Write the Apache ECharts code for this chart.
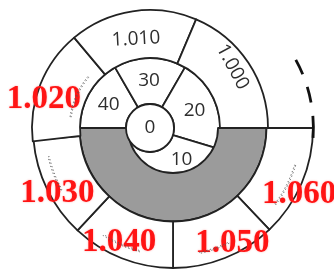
<!DOCTYPE html>
<html>
<head>
<meta charset="utf-8">
<script src="https://cdn.jsdelivr.net/npm/echarts@6/dist/echarts.min.js"></script>
<style>
html,body{margin:0;padding:0;background:#fff}
#main{width:334px;height:273px}
</style>
</head>
<body>
<div id="main"></div>
<script>
// inner dial round the 0 disc, spans in degrees clockwise from the left edge
var innerNames = ['40', '30', '20', '10'];
var innerSpans = [60, 60, 77, 163];
// upper outer scale, clockwise from just under the left edge
var upperNames = ['1.020', '1.010', '1.000'];
var upperSpans = [56.5, 63, 67];
// lower outer scale on the shifted disc, clockwise from the right edge
var lowerNames = ['1.060', '1.050', '1.040', '1.030'];
var lowerSpans = [46.5, 43.5, 43, 42];
// grey half ring
var bandSpan = [180];
// dotted scale marks, [from, to] in degrees
var lowerMarks = [[323, 343], [282, 296], [237, 255], [193, 209]];
var upperMarks = [[140, 172]];
// dashes of the outside arc at the right
var dashArcs = [[-4, 5], [10.5, 17], [22.5, 29]];
// labels drawn in red
var redNames = ['1.020', '1.030', '1.040', '1.050', '1.060'];

var cA = [150, 128];   // centre of the 0 disc
var cB = [173, 128];   // centre of the shifted disc
var line = '#222';

function total(a) { return a.reduce(function (s, v) { return s + v; }, 0); }

var blackText = {show: true, position: 'inside', formatter: '{b}', color: '#2e2e2e',
  fontFamily: 'Open Sans', fontSize: 19};
var redText = {show: true, position: 'inside', formatter: '{b}', color: '#ff1414',
  fontFamily: 'Liberation Serif', fontWeight: 'bold', fontSize: 33,
  textShadowColor: 'rgba(255,60,60,0.45)', textShadowBlur: 2};
var rotations = {'1.010': 3, '1.000': -62};
var labelShift = {
  '10': [39, -18], '40': [2, 2], '30': [-1, 3], '20': [-2, 1],
  '1.010': [0, 7], '1.000': [-6, -5],
  '1.020': [-16, 7], '1.030': [-8, 13], '1.040': [-10, 3], '1.050': [15, 4], '1.060': [16, 19]
};

function ringData(names, spans) {
  return names.map(function (n, i) {
    var lab = Object.assign({}, redNames.indexOf(n) >= 0 ? redText : blackText);
    if (rotations[n] != null) lab.rotate = rotations[n];
    return {name: n, value: spans[i], label: lab};
  });
}

// turn [from, to] arcs into pie slices with see-through gaps between them
function arcData(arcs, style) {
  var s = arcs.slice().sort(function (a, b) { return b[1] - a[1]; });
  var out = [];
  var cur = s[0][1];
  s.forEach(function (a) {
    if (cur > a[1]) out.push({value: cur - a[1], itemStyle: {color: 'rgba(0,0,0,0)', borderWidth: 0}});
    out.push({value: a[1] - a[0], itemStyle: style});
    cur = a[0];
  });
  return {start: s[0][1], end: cur, data: out};
}

function shift(p) {
  var s = labelShift[p.text] || [0, 0];
  return {dx: s[0], dy: s[1]};
}

var ring = {color: '#fff', borderColor: line, borderWidth: 1.8};
var dots = {color: 'rgba(0,0,0,0)', borderColor: '#555', borderWidth: 1, borderType: [1.2, 2.4]};
var lm = arcData(lowerMarks, dots);
var um = arcData(upperMarks, dots);
var da = arcData(dashArcs, {color: '#111', borderWidth: 0});

var base = {type: 'pie', silent: true, animation: false, clockwise: true,
  labelLine: {show: false}, labelLayout: shift, emphasis: {disabled: true}};

var upperStart = 186.5;
var chart = echarts.init(document.getElementById('main'), null, {renderer: 'canvas'});
chart.setOption({
  backgroundColor: '#fff',
  series: [
    Object.assign({}, base, {z: 1, center: cA, radius: [24, 70], startAngle: 180,
      itemStyle: ring, data: ringData(innerNames, innerSpans)}),
    Object.assign({}, base, {z: 2, center: cB, radius: [45, 93.5], startAngle: 0, endAngle: -total(bandSpan),
      itemStyle: {color: '#9b9b9b', borderColor: line, borderWidth: 1.8}, label: {show: false},
      data: bandSpan.map(function (v) { return {value: v, name: ''}; })}),
    Object.assign({}, base, {z: 3, center: cB, radius: [93.5, 140], startAngle: 0, endAngle: -total(lowerSpans),
      itemStyle: ring, data: ringData(lowerNames, lowerSpans)}),
    Object.assign({}, base, {z: 3, center: cA, radius: [70, 118], startAngle: upperStart,
      endAngle: upperStart - total(upperSpans),
      itemStyle: ring, data: ringData(upperNames, upperSpans)}),
    Object.assign({}, base, {z: 4, center: cA, radius: [0, 24],
      itemStyle: ring, label: Object.assign({}, blackText, {position: 'center'}),
      data: [{value: 1, name: '0'}]}),
    Object.assign({}, base, {z: 5, center: cB, radius: [127, 128.2], startAngle: lm.start, endAngle: lm.end,
      label: {show: false}, data: lm.data}),
    Object.assign({}, base, {z: 5, center: cA, radius: [79.5, 80.7], startAngle: um.start, endAngle: um.end,
      label: {show: false}, data: um.data}),
    Object.assign({}, base, {z: 5, center: cB, radius: [139, 141.8], startAngle: da.start, endAngle: da.end,
      label: {show: false}, data: da.data})
  ]
});
</script>
</body>
</html>
